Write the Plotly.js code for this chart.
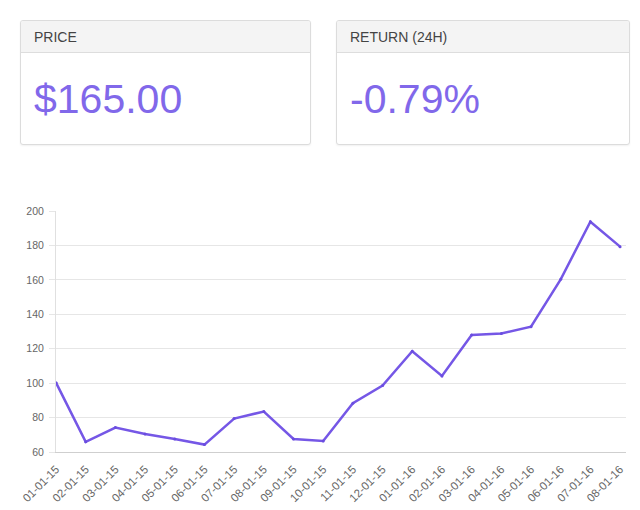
<!DOCTYPE html>
<html>
<head>
<meta charset="utf-8">
<script src="https://cdn.plot.ly/plotly-3.0.1.min.js"></script>
<style>
  html, body { margin: 0; padding: 0; width: 640px; height: 510px; background: #fff; overflow: hidden; }
  #chart { position: absolute; left: 0; top: 0; width: 640px; height: 510px; }
  .card { position: absolute; top: 20px; height: 123px; background: #fff; border: 1px solid #dcdcdc; border-radius: 3px; box-shadow: 0 1px 2px rgba(0,0,0,0.06); font-family: "Liberation Sans", Arial, sans-serif; overflow: hidden; }
  .card .hd { height: 31px; background: #f4f4f4; border-bottom: 1px solid #dddddd; color: #444; font-size: 14px; line-height: 33px; padding-left: 13px; }
  .card .val { color: #8168ea; font-size: 41px; padding-left: 13px; margin-top: 22px; line-height: 48px; }
</style>
</head>
<body>
<div id="chart"></div>
<div class="card" style="left:20px; width:289px;"><div class="hd" id="h1"></div><div class="val" id="v1"></div></div>
<div class="card" style="left:336px; width:292px;"><div class="hd" id="h2"></div><div class="val" id="v2"></div></div>
<script>
const cardTitles = ["PRICE", "RETURN (24H)"];
const cardValues = ["$165.00", "-0.79%"];

const dates = ["01-01-15","02-01-15","03-01-15","04-01-15","05-01-15","06-01-15","07-01-15","08-01-15","09-01-15","10-01-15","11-01-15","12-01-15","01-01-16","02-01-16","03-01-16","04-01-16","05-01-16","06-01-16","07-01-16","08-01-16"];
const prices = [100.3, 65.9, 74.2, 70.5, 67.6, 64.3, 79.4, 83.5, 67.6, 66.4, 88.3, 98.6, 118.5, 104.2, 128.0, 128.8, 132.8, 160.3, 193.8, 179.3];
const yTicks = [60, 80, 100, 120, 140, 160, 180, 200];

document.getElementById('h1').textContent = cardTitles[0];
document.getElementById('h2').textContent = cardTitles[1];
document.getElementById('v1').textContent = cardValues[0];
document.getElementById('v2').textContent = cardValues[1];

const trace = {
  x: dates, y: prices, type: 'scatter', mode: 'lines+markers',
  line: { color: '#7557e6', width: 2.5 },
  marker: { color: '#6a4ddf', size: 3 },
  hoverinfo: 'skip'
};

const layout = {
  width: 640, height: 510,
  margin: { l: 56, r: 14, t: 211, b: 58, pad: 0 },
  paper_bgcolor: 'rgba(0,0,0,0)', plot_bgcolor: '#fff',
  showlegend: false,
  font: { family: 'Liberation Sans, Arial, sans-serif', color: '#666666', size: 10 },
  xaxis: {
    type: 'category', range: [0, 19.2], tickangle: -45,
    showgrid: false, zeroline: false,
    showline: true, linecolor: '#cfcfcf', linewidth: 1,
    ticks: 'outside', ticklen: 5, tickcolor: 'rgba(0,0,0,0)',
    tickfont: { size: 11.5, color: '#666666' }, automargin: false
  },
  yaxis: {
    range: [60, 200], tickvals: yTicks, ticktext: yTicks.map(String),
    showgrid: true, gridcolor: '#e6e6e6', gridwidth: 1, zeroline: false,
    showline: true, linecolor: '#e0e0e0', linewidth: 1,
    ticks: 'outside', ticklen: 6, tickcolor: '#e6e6e6', ticklabelstandoff: 3,
    tickfont: { size: 10.5, color: '#666666' }, automargin: false
  }
};

Plotly.newPlot('chart', [trace], layout, { staticPlot: true, displayModeBar: false });
</script>
</body>
</html>
